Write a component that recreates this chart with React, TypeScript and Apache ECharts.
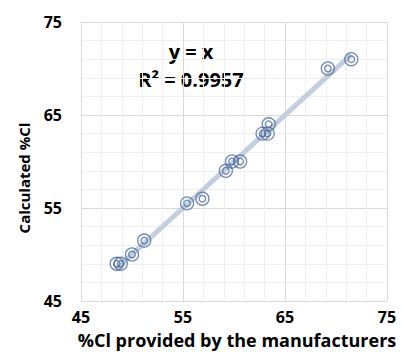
import React, { useEffect, useRef } from "react";
import * as echarts from "echarts";

const providedCl = [48.5, 48.9, 50.0, 51.2, 55.4, 56.9, 59.2, 59.8, 60.6, 62.8, 63.3, 63.4, 69.2, 71.5];
const calculatedCl = [49.0, 49.0, 50.0, 51.5, 55.5, 56.0, 59.0, 60.0, 60.0, 63.0, 63.0, 64.0, 70.0, 71.0];
const trendX = [48.5, 71.5];
const axisTicks = [45, 55, 65, 75];
const equationLines = ["y = x", "R² = 0.9957"];

const FONT = "'Open Sans', Lato, sans-serif";
const MARK = "#4a6a9c";

export default function App() {
  const ref = useRef<HTMLDivElement>(null);
  useEffect(() => {
    if (!ref.current) return;
    const chart = echarts.init(ref.current, undefined, { renderer: "svg" });
    const points = providedCl.map((x, i) => [x, calculatedCl[i]]);
    const trend = trendX.map((x) => [x, x]);
    const axisCommon = {
      type: "value" as const,
      min: axisTicks[0],
      max: axisTicks[axisTicks.length - 1],
      interval: 10,
      axisLine: { show: false },
      axisTick: { show: false },
      splitLine: { show: true, lineStyle: { color: "#d9d9d9", width: 1 } },
      minorTick: { show: false, splitNumber: 5 },
      minorSplitLine: { show: true, lineStyle: { color: "#efefef", width: 1 } },
    };
    chart.setOption({
      animation: false,
      textStyle: { fontFamily: FONT },
      grid: { left: 81, top: 22, width: 306, height: 279 },
      xAxis: {
        ...axisCommon,
        axisLabel: { color: "#000", fontWeight: "bold", fontSize: 16, fontFamily: FONT, margin: 8 },
      },
      yAxis: {
        ...axisCommon,
        axisLabel: { color: "#000", fontWeight: "bold", fontSize: 16, fontFamily: FONT, margin: 19 },
      },
      graphic: [
        {
          type: "text",
          x: 237,
          y: 340,
          style: {
            text: "%Cl provided by the manufacturers",
            font: `bold 18px ${FONT}`,
            fill: "#000",
            textAlign: "center",
            textVerticalAlign: "middle",
          },
        },
        {
          type: "text",
          x: 24,
          y: 178,
          rotation: Math.PI / 2,
          style: {
            text: "Calculated %Cl",
            font: `bold 15px ${FONT}`,
            fill: "#000",
            textAlign: "center",
            textVerticalAlign: "middle",
          },
        },
        {
          type: "text",
          x: 191,
          y: 51,
          style: {
            text: equationLines[0],
            font: `bold 20px ${FONT}`,
            fill: "#000",
            textAlign: "center",
            textVerticalAlign: "middle",
          },
        },
        {
          type: "text",
          x: 191,
          y: 79,
          style: {
            text: equationLines[1],
            font: `bold 20px ${FONT}`,
            fill: "#000",
            textAlign: "center",
            textVerticalAlign: "middle",
          },
        },
      ],
      series: [
        {
          type: "line",
          data: trend,
          symbol: "none",
          lineStyle: { color: "#c3cfdf", width: 5 },
          z: 1,
        },
        {
          type: "scatter",
          data: points,
          symbol: "circle",
          symbolSize: 13,
          itemStyle: { color: "rgba(255,255,255,0)", borderColor: MARK, borderWidth: 1.3 },
          z: 2,
        },
        {
          type: "scatter",
          data: points,
          symbol: "circle",
          symbolSize: 6.5,
          itemStyle: { color: "rgba(255,255,255,0)", borderColor: MARK, borderWidth: 1.3 },
          z: 3,
        },
      ],
    });
    return () => chart.dispose();
  }, []);
  return <div ref={ref} style={{ position: "absolute", left: 0, top: 0, width: 402, height: 363 }} />;
}
